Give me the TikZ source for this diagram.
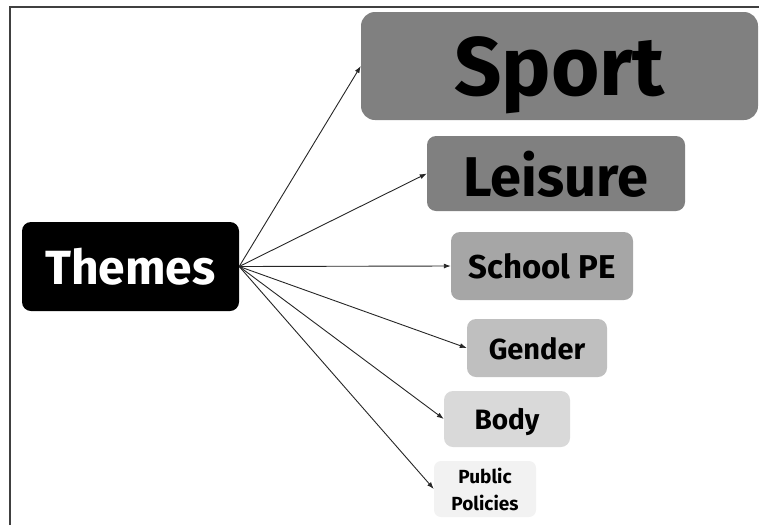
\documentclass[tikz,border=0pt]{standalone}
\usepackage{fontspec}
\setmainfont{Fira Sans}
\usetikzlibrary{arrows.meta}
\tikzset{
  box/.style={rounded corners=9pt, inner sep=0pt, align=center, font=\bfseries, text=black, text depth=0pt},
  link/.style={line width=0.9pt, draw=black!85, -{Latex[length=7pt,width=5pt]}},
  frame/.style={line width=1.4pt, draw=black!75}
}
\begin{document}
\begin{tikzpicture}[x=1pt,y=-1pt]
\useasboundingbox (0,0) rectangle (759,525);
\draw[frame] (10,525) -- (10,7) -- (759,7);
\node[box, fill=black, text=white, minimum width=217pt, minimum height=89pt, font=\bfseries\fontsize{48}{48}\selectfont] (themes) at (130.5,266.5) {Themes};
\node[box, rounded corners=14pt, fill=black!50, minimum width=397pt, minimum height=108pt, font=\bfseries\fontsize{83}{83}\selectfont] (sport) at (559.5,66) {Sport};
\node[box, fill=black!50, minimum width=258pt, minimum height=75pt, font=\bfseries\fontsize{56}{56}\selectfont] (leisure) at (556,173.5) {Leisure};
\node[box, fill=black!35, minimum width=182pt, minimum height=68pt, font=\bfseries\fontsize{33}{33}\selectfont] (school) at (542,266) {School PE};
\node[box, fill=black!25, minimum width=140pt, minimum height=58pt, font=\bfseries\fontsize{29}{29}\selectfont] (gender) at (537,348) {Gender};
\node[box, fill=black!15, minimum width=126pt, minimum height=56pt, font=\bfseries\fontsize{28}{28}\selectfont] (body) at (507,419) {Body};
\node[box, rounded corners=7pt, fill=black!5, text depth=, minimum width=102pt, minimum height=56pt, font=\bfseries\fontsize{19}{27}\selectfont] (public) at (485,489) {Public\\Policies};
\foreach \t in {sport,leisure,school,gender,body,public}
  \draw[link] (themes.east) -- (\t.west);
\end{tikzpicture}
\end{document}
